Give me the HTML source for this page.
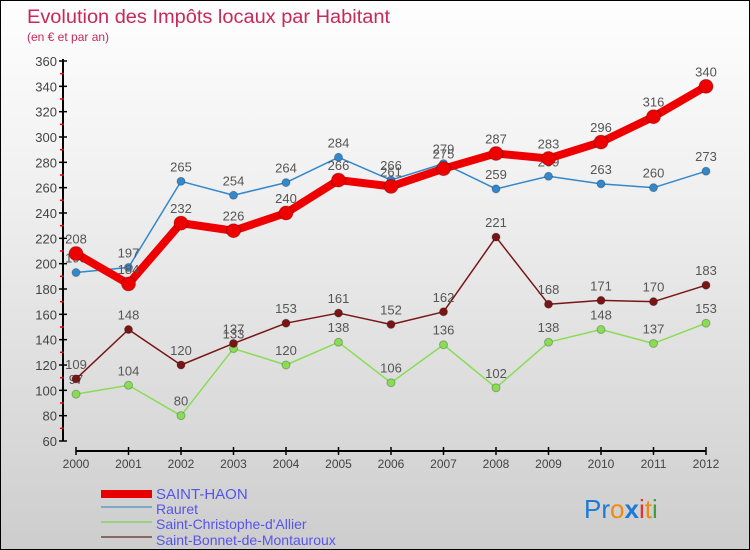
<!DOCTYPE html>
<html><head><meta charset="utf-8"><style>
body{margin:0;}
#c{width:750px;height:550px;position:relative;box-sizing:border-box;border:1px solid #000;background:linear-gradient(#fefefe,#f2f2f2 30%,#d8d8d8 80%,#cdcdcd);font-family:"Liberation Sans",sans-serif;overflow:hidden}
svg text{font-family:"Liberation Sans","DejaVu Sans",sans-serif}
</style></head><body>
<div id="c">
<svg id="s" width="750" height="550" xmlns="http://www.w3.org/2000/svg">
<text x="26" y="22" font-size="19" fill="#c8285a" textLength="363" lengthAdjust="spacingAndGlyphs">Evolution des Impôts locaux par Habitant</text>
<text x="26" y="40" font-size="12" fill="#c8285a">(en € et par an)</text>
<g id="g"></g>
<g>
<rect x="100" y="489" width="51" height="8" fill="#e80000"/>
<rect x="100" y="505" width="51" height="2" fill="#7fa8c8"/>
<rect x="100" y="520" width="51" height="2" fill="#9ad080"/>
<rect x="100" y="535" width="51" height="2" fill="#8a6868"/>
<text x="155" y="498" font-size="15" fill="#5555ee">SAINT-HAON</text>
<text x="155" y="513" font-size="14" fill="#5555ee">Rauret</text>
<text x="155" y="528" font-size="14" fill="#5555ee">Saint-Christophe-d'Allier</text>
<text x="155" y="544" font-size="14" fill="#5555ee">Saint-Bonnet-de-Montauroux</text>
</g>
<g font-size="26">
<text x="583" y="517"><tspan fill="#1a7ad8">Pr</tspan><tspan fill="#f08a10">o</tspan><tspan fill="#1a7ad8" font-weight="bold">x</tspan><tspan fill="#e83030">i</tspan><tspan fill="#f08a10">t</tspan><tspan fill="#40a040">i</tspan></text>
</g>
</svg>
</div>
<script>
const years=[2000,2001,2002,2003,2004,2005,2006,2007,2008,2009,2010,2011,2012];
const saintHaon=[208,184,232,226,240,266,261,275,287,283,296,316,340];
const rauret=[193,197,265,254,264,284,266,279,259,269,263,260,273];
const saintChristophe=[97,104,80,133,120,138,106,136,102,138,148,137,153];
const saintBonnet=[109,148,120,137,153,161,152,162,221,168,171,170,183];
const yTicks=[60,80,100,120,140,160,180,200,220,240,260,280,300,320,340,360];
const NS="http://www.w3.org/2000/svg";
const g=document.getElementById('g');
const X=i=>75+i*52.5;
const Y=v=>440-(v-60)*380/300;
function mk(t,a,p){const e=document.createElementNS(NS,t);for(const k in a)e.setAttribute(k,a[k]);(p||g).appendChild(e);return e;}
let ya=mk('line',{x1:62,y1:58,x2:62,y2:440,stroke:'#000','stroke-width':2});


let xa=mk('line',{x1:75,y1:450,x2:705,y2:450,stroke:'#000','stroke-width':2});


yTicks.forEach((v,i)=>{
  mk('line',{x1:58,y1:Y(v),x2:66,y2:Y(v),stroke:'#000','stroke-width':1.5});
  if(i<yTicks.length-1)mk('line',{x1:59,y1:Y(v+10),x2:63,y2:Y(v+10),stroke:'#e00','stroke-width':1.5});
  const t=mk('text',{x:56,y:Y(v)+5,'font-size':13,fill:'#444','text-anchor':'end'});
  t.textContent=v;
  
  
});
years.forEach((yr,i)=>{
  mk('line',{x1:X(i),y1:446,x2:X(i),y2:454,stroke:'#000','stroke-width':1.5});
  const t=mk('text',{x:X(i),y:467,'font-size':12,fill:'#444','text-anchor':'middle'});
  t.textContent=yr;
  
  
});
function series(data,color,w,r,name){
  const grp=mk('g',{});
  
  
  mk('polyline',{points:data.map((v,i)=>X(i)+','+Y(v)).join(' '),fill:'none',stroke:color,'stroke-width':w,'stroke-linejoin':'round'},grp);
  data.forEach((v,i)=>{
    const c=mk('circle',{cx:X(i),cy:Y(v),r:r,fill:color,stroke:'rgba(0,0,0,0.25)','stroke-width':1},grp);
    
    
    const t=mk('text',{x:X(i),y:Y(v)-10,'font-size':13,fill:'#555','text-anchor':'middle'},grp);
    t.textContent=v;
    
    
  });
}
series(saintChristophe,'#88dd55',1.5,4,'saint-christophe');
series(saintBonnet,'#7a1515',1.5,4,'saint-bonnet');
series(rauret,'#3388cc',1.5,4,'rauret');
series(saintHaon,'#ee0000',8,7,'saint-haon');
</script>
</body></html>
